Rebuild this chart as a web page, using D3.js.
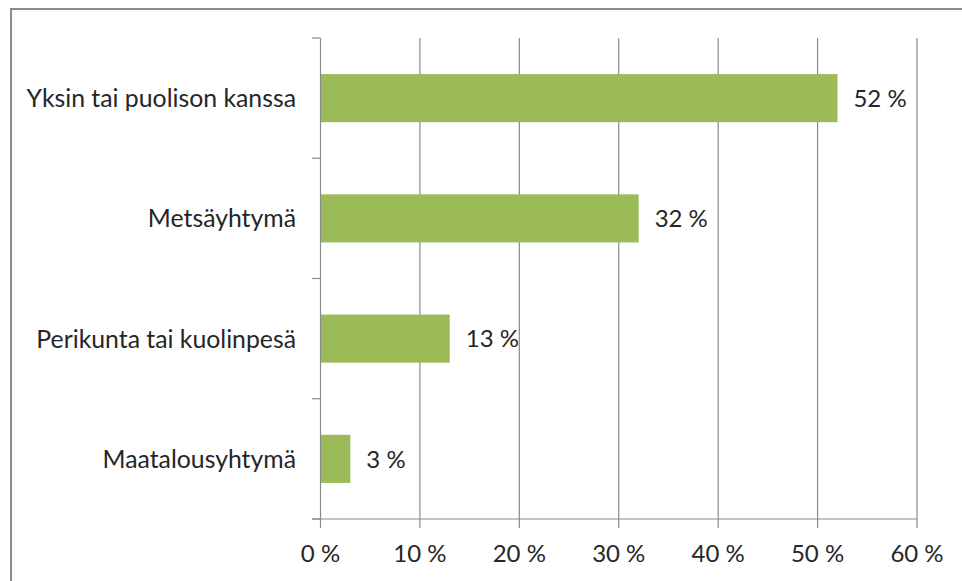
<!doctype html>
<html>
<head>
<meta charset="utf-8">
<script src="https://cdnjs.cloudflare.com/ajax/libs/d3/7.8.5/d3.min.js"></script>
<style>
  body { margin: 0; background: #fff; }
  svg { display: block; }
  text { font-family: Lato, "Open Sans", sans-serif; fill: #262626; }
</style>
</head>
<body>
<svg width="962" height="581"></svg>
<script>
var categories = ["Yksin tai puolison kanssa", "Metsäyhtymä", "Perikunta tai kuolinpesä", "Maatalousyhtymä"];
var values = [52, 32, 13, 3];
var tickValues = [0, 10, 20, 30, 40, 50, 60];

var svg = d3.select("svg");

// outer frame, runs off the right and bottom edge
svg.append("rect")
  .attr("x", 11).attr("y", 9)
  .attr("width", 1000).attr("height", 700)
  .style("fill", "none")
  .style("stroke", "#8c8c8c")
  .style("stroke-width", 2);

var x = d3.scaleLinear().domain([0, 60]).range([320.5, 917]);
var y = d3.scaleBand().domain(categories).range([38, 519])
  .paddingInner(0.6).paddingOuter(0.3);

var grid = "#8a8a8a";

// vertical gridlines
svg.append("g").selectAll("line")
  .data(tickValues.slice(1))
  .enter().append("line")
  .attr("x1", d => x(d)).attr("x2", d => x(d))
  .attr("y1", 38).attr("y2", 519)
  .style("stroke", grid).style("stroke-width", 1.2);

// bars
svg.append("g").selectAll("rect")
  .data(values)
  .enter().append("rect")
  .attr("x", x(0))
  .attr("y", (d, i) => y(categories[i]))
  .attr("width", d => x(d) - x(0))
  .attr("height", y.bandwidth())
  .style("fill", "#9bbb59");

// value labels
svg.append("g").selectAll("text")
  .data(values)
  .enter().append("text")
  .attr("x", d => x(d) + 16)
  .attr("y", (d, i) => y(categories[i]) + y.bandwidth() / 2)
  .attr("dy", "0.36em")
  .style("font-size", "24px")
  .text(d => d + " %");

// y axis
var step = y.step();
var yAxis = svg.append("g");
yAxis.append("line")
  .attr("x1", x(0)).attr("x2", x(0)).attr("y1", 38).attr("y2", 519)
  .style("stroke", grid).style("stroke-width", 1.2);
yAxis.selectAll("line.tick")
  .data(d3.range(categories.length + 1))
  .enter().append("line")
  .attr("class", "tick")
  .attr("x1", 312).attr("x2", x(0))
  .attr("y1", i => 38 + i * step).attr("y2", i => 38 + i * step)
  .style("stroke", grid).style("stroke-width", 1.2);
yAxis.selectAll("text")
  .data(categories)
  .enter().append("text")
  .attr("x", 296)
  .attr("y", d => y(d) + y.bandwidth() / 2)
  .attr("dy", "0.36em")
  .attr("text-anchor", "end")
  .style("font-size", "24.8px")
  .text(d => d);

// x axis
var xAxis = svg.append("g");
xAxis.append("line")
  .attr("x1", 312).attr("x2", x(60)).attr("y1", 519).attr("y2", 519)
  .style("stroke", grid).style("stroke-width", 1.2);
xAxis.selectAll("line.tick")
  .data(tickValues)
  .enter().append("line")
  .attr("class", "tick")
  .attr("x1", d => x(d)).attr("x2", d => x(d))
  .attr("y1", 519).attr("y2", 528)
  .style("stroke", grid).style("stroke-width", 1.2);
xAxis.selectAll("text")
  .data(tickValues)
  .enter().append("text")
  .attr("x", d => x(d))
  .attr("y", 562)
  .attr("text-anchor", "middle")
  .style("font-size", "24px")
  .text(d => d + " %");
</script>
</body>
</html>
